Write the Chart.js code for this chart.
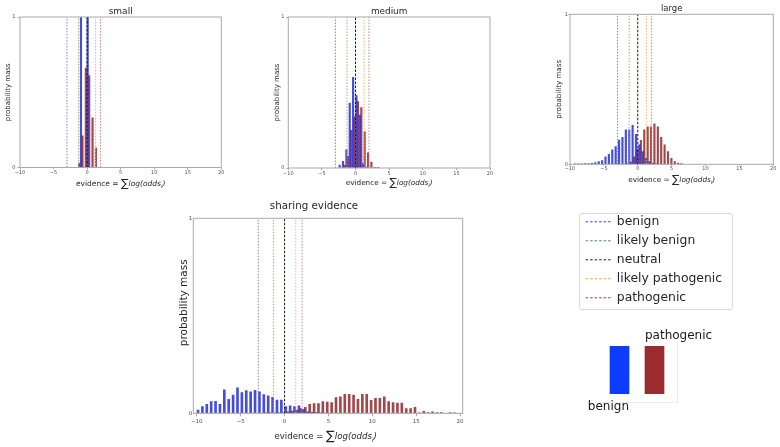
<!DOCTYPE html>
<html>
<head>
<meta charset="utf-8">
<script src="https://cdn.jsdelivr.net/npm/chart.js@4.4.1/dist/chart.umd.min.js"></script>
<style>
html,body{margin:0;padding:0;background:#fff;}
#stage{position:relative;width:780px;height:447px;overflow:hidden;background:#fff;}
canvas{position:absolute;}
.box{position:absolute;box-sizing:border-box;}
</style>
</head>
<body>
<div id="stage">
  <div class="box" style="left:579px;top:213px;width:154px;height:97px;border:1px solid #dadada;border-radius:3px;"></div>
  <div class="box" style="left:600px;top:341px;width:78px;height:62px;border-right:1px solid #ececec;border-bottom:1px solid #ececec;"></div>
  <canvas id="cSmall" width="260" height="195" style="left:0px;top:0px"></canvas>
  <canvas id="cMedium" width="260" height="195" style="left:260px;top:0px"></canvas>
  <canvas id="cLarge" width="260" height="195" style="left:520px;top:0px"></canvas>
  <canvas id="cSharing" width="330" height="257" style="left:150px;top:190px"></canvas>
  <canvas id="cLegend" width="340" height="115" style="left:579px;top:209px"></canvas>
  <canvas id="cKey" width="150" height="95" style="left:575px;top:325px"></canvas>
</div>
<script>
// ---------------- data ----------------
const xTicks = [-10, -5, 0, 5, 10, 15, 20];
const yTicks = [0, 1];
const thresholdNames = ['benign', 'likely benign', 'neutral', 'likely pathogenic', 'pathogenic'];
const thresholdValues = [-3, -1.27, 0, 1.27, 2];
const xTitleParts = ['evidence = ', '\u2211', 'log(odds', 'i', ')'];
const yTitle = 'probability mass';
const chartTitles = ['small', 'medium', 'large', 'sharing evidence'];

const smallBins = [-1.3, -0.8, -0.3, 0.2, 0.7, 1.2];
const smallBenign = [0, 1, 0, 1, 0, 0];
const smallPathogenic = [0.03, 0.21, 0.66, 0.61, 0.33, 0.13];

const mediumBins = [-2.25, -1.75, -1.25, -0.75, -0.25, 0.25, 0.75, 1.25, 1.75, 2.25, 2.75, 3.25];
const mediumBenign = [0.02, 0.045, 0.12, 0.43, 0.6, 0.48, 0.35, 0.03, 0.005, 0, 0, 0];
const mediumPathogenic = [0, 0.02, 0.075, 0.25, 0.34, 0.44, 0.40, 0.24, 0.10, 0.04, 0.005, 0.005];

const largeBins = [-9.15, -8.65, -8.15, -7.65, -7.15, -6.65, -6.15, -5.65, -5.15, -4.65, -4.15, -3.65,
  -3.15, -2.65, -2.15, -1.65, -1.15, -0.65, -0.15, 0.35, 0.85, 1.35, 1.85, 2.35, 2.85, 3.35, 3.85,
  4.35, 4.85, 5.35, 5.85, 6.35];
const largeBenign = [0.002, 0.003, 0.003, 0.004, 0.005, 0.007, 0.011, 0.018, 0.024, 0.05, 0.067, 0.096,
  0.118, 0.162, 0.18, 0.23, 0.23, 0.26, 0.2, 0.13, 0.085, 0.04, 0.018, 0.006, 0.002, 0, 0,
  0, 0, 0, 0, 0];
const largePathogenic = [0, 0, 0, 0, 0, 0, 0, 0, 0, 0, 0, 0,
  0, 0, 0, 0.004, 0.015, 0.05, 0.1, 0.16, 0.23, 0.25, 0.25, 0.27, 0.25, 0.18, 0.13,
  0.085, 0.04, 0.018, 0.008, 0.004];

const sharingBins = [-9.75, -9.25, -8.75, -8.25, -7.75, -7.25, -6.75, -6.25, -5.75, -5.25, -4.75, -4.25,
  -3.75, -3.25, -2.75, -2.25, -1.75, -1.25, -0.75, -0.25, 0.25, 0.75, 1.25, 1.75, 2.25, 2.75, 3.25,
  3.75, 4.25, 4.75, 5.25, 5.75, 6.25, 6.75, 7.25, 7.75, 8.25, 8.75, 9.25, 9.75, 10.25, 10.75, 11.25,
  11.75, 12.25, 12.75, 13.25, 13.75, 14.25, 14.75, 15.25, 15.75, 16.25, 16.75, 17.25, 17.75, 18.25,
  18.75, 19.25, 19.75];
const sharingBenign = [0.017, 0.034, 0.046, 0.06, 0.062, 0.046, 0.12, 0.072, 0.094, 0.13, 0.106, 0.116,
  0.11, 0.118, 0.11, 0.096, 0.089, 0.082, 0.068, 0.068, 0.034, 0.038, 0.034, 0.038, 0.02, 0.008, 0.005,
  0.004, 0.003, 0, 0, 0, 0, 0, 0, 0, 0, 0, 0, 0, 0, 0, 0,
  0, 0, 0, 0, 0, 0, 0, 0, 0, 0, 0, 0, 0, 0,
  0, 0, 0];
const sharingPathogenic = [0, 0, 0, 0, 0, 0, 0, 0, 0, 0, 0, 0,
  0, 0, 0, 0.003, 0.003, 0.003, 0.003, 0.003, 0.007, 0.012, 0.017, 0.024, 0.03, 0.046, 0.05,
  0.05, 0.06, 0.058, 0.055, 0.08, 0.084, 0.097, 0.097, 0.094, 0.072, 0.097, 0.097, 0.067, 0.077, 0.077, 0.084,
  0.06, 0.055, 0.053, 0.053, 0.024, 0.024, 0.03, 0.003, 0.01, 0.004, 0.007, 0.004, 0.004, 0,
  0.004, 0.003, 0];

const keyLabels = ['benign', 'pathogenic'];
const keyValues = [1, 1];

// ---------------- styles ----------------
const FONT = "'DejaVu Sans', sans-serif";
Chart.defaults.font.family = FONT;
const TEXT = '#262626';
const TICKTEXT = '#4d4d4d';
const FRAME = '#a9a9a9';
const barColors = ['rgba(28,38,214,0.82)', 'rgba(136,26,30,0.8)'];
const lineColors = ['#7c80d4', '#a8a874', '#1a1a1a', '#f0b45a', '#c78787'];
const lineDashes = [[1.5, 1.5], [1.5, 1.5], [2.5, 1.5], [1.5, 1.5], [1.5, 1.5]];
const legendColors = ['#3b3bf0', '#3a9a3a', '#222222', '#f5a623', '#b83232'];
const keyColors = ['#0b3cff', '#9a2c30'];

const fmt = v => (v < 0 ? '\u2212' + Math.abs(v) : String(v));

const framePlugin = {
  id: 'frame',
  afterDraw(chart, args, o) {
    const {ctx, chartArea: a} = chart;
    ctx.save();
    ctx.strokeStyle = o.color;
    ctx.lineWidth = 1;
    ctx.strokeRect(a.left, a.top, a.right - a.left, a.bottom - a.top);
    ctx.restore();
  }
};

const evidencePlugin = {
  id: 'evidence',
  afterDraw(chart, args, o) {
    const {ctx, chartArea: a} = chart;
    const s = o.size;
    const specs = [
      {font: `${s}px ${FONT}`, dy: 0},
      {font: `${s * 1.5}px ${FONT}`, dy: s * 0.12},
      {font: `italic ${s}px ${FONT}`, dy: 0},
      {font: `italic ${s * 0.7}px ${FONT}`, dy: s * 0.28},
      {font: `italic ${s}px ${FONT}`, dy: 0}
    ];
    ctx.save();
    ctx.fillStyle = o.color;
    ctx.textBaseline = 'alphabetic';
    ctx.textAlign = 'left';
    const widths = xTitleParts.map((t, i) => { ctx.font = specs[i].font; return ctx.measureText(t).width; });
    const total = widths.reduce((p, c) => p + c, 0);
    let x = (a.left + a.right) / 2 - total / 2 + (o.shift || 0);
    const base = a.bottom + o.offset;
    xTitleParts.forEach((t, i) => {
      ctx.font = specs[i].font;
      ctx.fillText(t, x, base + specs[i].dy);
      x += widths[i];
    });
    ctx.restore();
  }
};

// rotated y title, centred on the plot with an optional vertical shift
const sideTitlePlugin = {
  id: 'sideTitle',
  afterDraw(chart, args, o) {
    const {ctx, chartArea: a} = chart;
    ctx.save();
    ctx.font = `${o.size}px ${FONT}`;
    ctx.fillStyle = o.color;
    ctx.textAlign = 'center';
    ctx.textBaseline = 'middle';
    ctx.translate(a.left - o.gap, (a.top + a.bottom) / 2 + o.shift);
    ctx.rotate(-Math.PI / 2);
    ctx.fillText(yTitle, 0, 0);
    ctx.restore();
  }
};

function histChart(id, bins, benign, patho, title, lay) {
  const ds = [
    {type: 'bar', label: 'benign', data: bins.map((b, i) => ({x: b, y: benign[i]})),
      backgroundColor: barColors[0], barThickness: lay.bar, order: 1},
    {type: 'bar', label: 'pathogenic', data: bins.map((b, i) => ({x: b, y: patho[i]})),
      backgroundColor: barColors[1], barThickness: lay.bar, order: 1}
  ];
  thresholdValues.forEach((v, i) => ds.push({
    type: 'line', label: thresholdNames[i],
    data: [{x: v, y: yTicks[0]}, {x: v, y: yTicks[yTicks.length - 1]}],
    borderColor: lineColors[i], borderWidth: 1, borderDash: lineDashes[i],
    pointRadius: 0, fill: false, order: 0
  }));
  return new Chart(document.getElementById(id), {
    type: 'bar',
    data: {datasets: ds},
    options: {
      responsive: false, animation: false, devicePixelRatio: 1,
      layout: {padding: lay.pad},
      plugins: {
        legend: {display: false}, tooltip: {enabled: false},
        title: {display: true, text: title, color: TEXT, fullSize: lay.fullTitle,
          font: {family: FONT, size: lay.titleSize, lineHeight: lay.titleH + 'px', weight: 'normal'}, padding: 0},
        frame: {color: FRAME},
        evidence: {size: lay.xtSize, offset: lay.xtOffset, shift: lay.xtShift || 0, color: TEXT},
        sideTitle: {size: lay.ytSize, gap: lay.ytGap, shift: lay.ytShift, color: TEXT}
      },
      scales: {
        x: {
          type: 'linear', min: lay.xmin, max: lay.xmax, offset: false,
          afterBuildTicks: s => { s.ticks = xTicks.map(v => ({value: v})); },
          afterFit: s => { s.height = lay.xH; },
          ticks: {font: {family: FONT, size: lay.tickSize}, color: TICKTEXT, padding: lay.xTickPad,
            maxRotation: 0, autoSkip: false, callback: v => fmt(v)},
          grid: {drawOnChartArea: false, drawTicks: true, tickLength: lay.xTickLen, color: FRAME, offset: false},
          border: {display: false}
        },
        y: {
          type: 'linear', min: 0, max: 1,
          afterBuildTicks: s => { s.ticks = yTicks.map(v => ({value: v})); },
          afterFit: s => { s.width = lay.yW; },
          ticks: {font: {family: FONT, size: lay.tickSize}, color: TICKTEXT, padding: lay.yTickPad, callback: v => fmt(v)},
          grid: {drawOnChartArea: false, drawTicks: lay.yTickLen > 0, tickLength: lay.yTickLen, color: FRAME},
          border: {display: false}
        }
      }
    },
    plugins: [framePlugin, evidencePlugin, sideTitlePlugin]
  });
}

histChart('cSmall', smallBins, smallBenign, smallPathogenic, chartTitles[0], {
  pad: {left: 0, right: 38.7, top: 7, bottom: 0}, fullTitle: false,
  titleSize: 9, titleH: 10, yW: 20, xH: 27.5,
  ytSize: 7, ytGap: 12, ytShift: 0,
  tickSize: 5, xTickLen: 2, xTickPad: 0.5, yTickLen: 2.5, yTickPad: 2,
  xtSize: 7.5, xtOffset: 18.8, xmin: -10, xmax: 20, bar: 1.5
});
histChart('cMedium', mediumBins, mediumBenign, mediumPathogenic, chartTitles[1], {
  pad: {left: 0, right: 30, top: 6.4, bottom: 0}, fullTitle: false,
  titleSize: 8.9, titleH: 10.6, yW: 28.3, xH: 27,
  ytSize: 7, ytGap: 11, ytShift: 0,
  tickSize: 5, xTickLen: 2, xTickPad: 0.3, yTickLen: 2, yTickPad: 1.8,
  xtSize: 7.3, xtOffset: 16.9, xmin: -10, xmax: 20, bar: 1.5
});
histChart('cLarge', largeBins, largeBenign, largePathogenic, chartTitles[2], {
  pad: {left: 0, right: 6.7, top: 2.3, bottom: 0}, fullTitle: false,
  titleSize: 8.5, titleH: 12, yW: 50, xH: 30.7,
  ytSize: 7.1, ytGap: 10.7, ytShift: 0,
  tickSize: 5, xTickLen: 1.5, xTickPad: 0, yTickLen: 1.5, yTickPad: 0.5,
  xtSize: 7.3, xtOffset: 17.9, xmin: -10, xmax: 20, bar: 1.5
});
histChart('cSharing', sharingBins, sharingBenign, sharingPathogenic, chartTitles[3], {
  pad: {left: 15.3, right: 17.3, top: 5.1, bottom: 0}, fullTitle: true,
  titleSize: 10.3, titleH: 23.2, yW: 28, xH: 33.7,
  ytSize: 10.5, ytGap: 9.3, ytShift: -13,
  tickSize: 5.5, xTickLen: 3, xTickPad: 2, yTickLen: 0, yTickPad: 1,
  xtSize: 8.6, xtOffset: 26, xtShift: -2.3, xmin: -10.4, xmax: 20.3, bar: 2
});

// legend of threshold lines
new Chart(document.getElementById('cLegend'), {
  type: 'line',
  data: {datasets: thresholdNames.map((n, i) => ({
    label: n, data: [], borderColor: legendColors[i], borderWidth: 1,
    borderDash: [2.5, 2], pointStyle: 'line'
  }))},
  options: {
    responsive: false, animation: false, devicePixelRatio: 1,
    layout: {padding: 0},
    scales: {x: {display: false}, y: {display: false}},
    plugins: {
      tooltip: {enabled: false},
      legend: {
        position: 'left', align: 'start',
        labels: {
          usePointStyle: true, pointStyle: 'line', pointStyleWidth: 25, padding: 6.6,
          color: TEXT, font: {family: FONT, size: 12.4},
          generateLabels: chart => Chart.defaults.plugins.legend.labels.generateLabels(chart).map((l, i) => {
            const d = chart.data.datasets[i];
            return Object.assign({}, l, {lineDash: d.borderDash, strokeStyle: d.borderColor, lineWidth: 1, fontColor: TEXT});
          })
        }
      }
    }
  }
});

// colour key (benign / pathogenic bars)
const keyLabelPlugin = {
  id: 'keyLabels',
  afterDatasetsDraw(chart, args, o) {
    const {ctx, chartArea: a} = chart;
    const meta = chart.getDatasetMeta(0);
    ctx.save();
    ctx.font = `${o.size}px ${FONT}`;
    ctx.fillStyle = o.color;
    ctx.textBaseline = 'middle';
    meta.data.forEach((bar, i) => {
      const half = bar.width / 2;
      if (o.place[i] === 'below') {
        ctx.textAlign = 'right';
        ctx.fillText(chart.data.labels[i], bar.x + half, a.bottom + o.gapBelow);
      } else {
        ctx.textAlign = 'left';
        ctx.fillText(chart.data.labels[i], bar.x - half, bar.y - o.gapAbove);
      }
    });
    ctx.restore();
  }
};
new Chart(document.getElementById('cKey'), {
  type: 'bar',
  data: {labels: keyLabels, datasets: [{data: keyValues, backgroundColor: keyColors, barThickness: 19}]},
  options: {
    responsive: false, animation: false, devicePixelRatio: 1,
    layout: {padding: {left: 27, right: 53, top: 21, bottom: 26}},
    scales: {x: {display: false}, y: {display: false, min: 0, max: 1}},
    plugins: {
      legend: {display: false}, tooltip: {enabled: false},
      keyLabels: {size: 12, color: '#1a1a1a', place: ['below', 'above'], gapBelow: 13, gapAbove: 10}
    }
  },
  plugins: [keyLabelPlugin]
});
</script>
</body>
</html>
